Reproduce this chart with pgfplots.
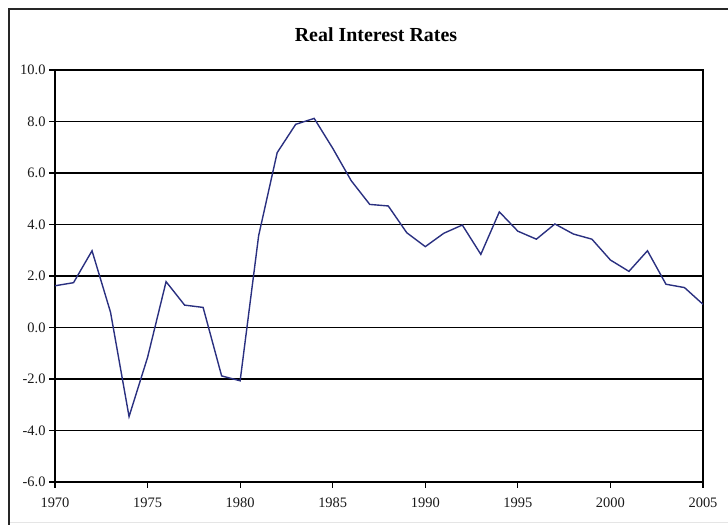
\documentclass[border=0pt]{standalone}
\usepackage{fontspec}
\setmainfont{Liberation Serif}
\usepackage{pgfplots}
\pgfplotsset{compat=1.18}
\definecolor{rateline}{HTML}{2A3080}

\pgfplotstableread{
year rate
1970 1.62
1971 1.74
1972 2.98
1973 0.59
1974 -3.46
1975 -1.16
1976 1.78
1977 0.87
1978 0.78
1979 -1.88
1980 -2.07
1981 3.57
1982 6.79
1983 7.89
1984 8.12
1985 6.96
1986 5.70
1987 4.78
1988 4.72
1989 3.68
1990 3.14
1991 3.66
1992 3.98
1993 2.84
1994 4.49
1995 3.74
1996 3.43
1997 4.02
1998 3.63
1999 3.43
2000 2.62
2001 2.18
2002 2.98
2003 1.68
2004 1.55
2005 0.90
}\rates

\begin{document}
\begin{tikzpicture}
\path[use as bounding box] (0,0) rectangle (728bp,525bp);
% outer frame (left and top edges visible)
\draw[line width=2bp, black!85] (9bp,0) -- (9bp,516bp) -- (728bp,516bp);
\draw[line width=1bp, black!10] (10bp,2bp) -- (728bp,2bp);
\node[font=\fontsize{20}{24}\selectfont\bfseries, anchor=base] at (376bp,483bp) {Real Interest Rates};
\begin{axis}[
  at={(55bp,43bp)}, anchor=south west,
  scale only axis, width=648bp, height=412bp,
  xmin=1970, xmax=2005, ymin=-6, ymax=10,
  xtick={1970,1975,...,2005},
  xticklabels={1970,1975,1980,1985,1990,1995,2000,2005},
  ytick={-6,-4,...,10},
  yticklabels={-6.0,-4.0,-2.0,0.0,2.0,4.0,6.0,8.0,10.0},
  tick pos=left, tick align=outside, major tick length=6bp,
  tick style={black, line width=1.2bp},
  axis line style={black, line width=1.3bp},
  ymajorgrids, grid style={black, line width=1.2bp},
  tick label style={font=\fontsize{14.5}{17}\selectfont, text=black!90},
  xticklabel style={yshift=-6bp},
]
\addplot[rateline, line width=1.4bp] table[x=year, y=rate] {\rates};
\end{axis}
\end{tikzpicture}
\end{document}
